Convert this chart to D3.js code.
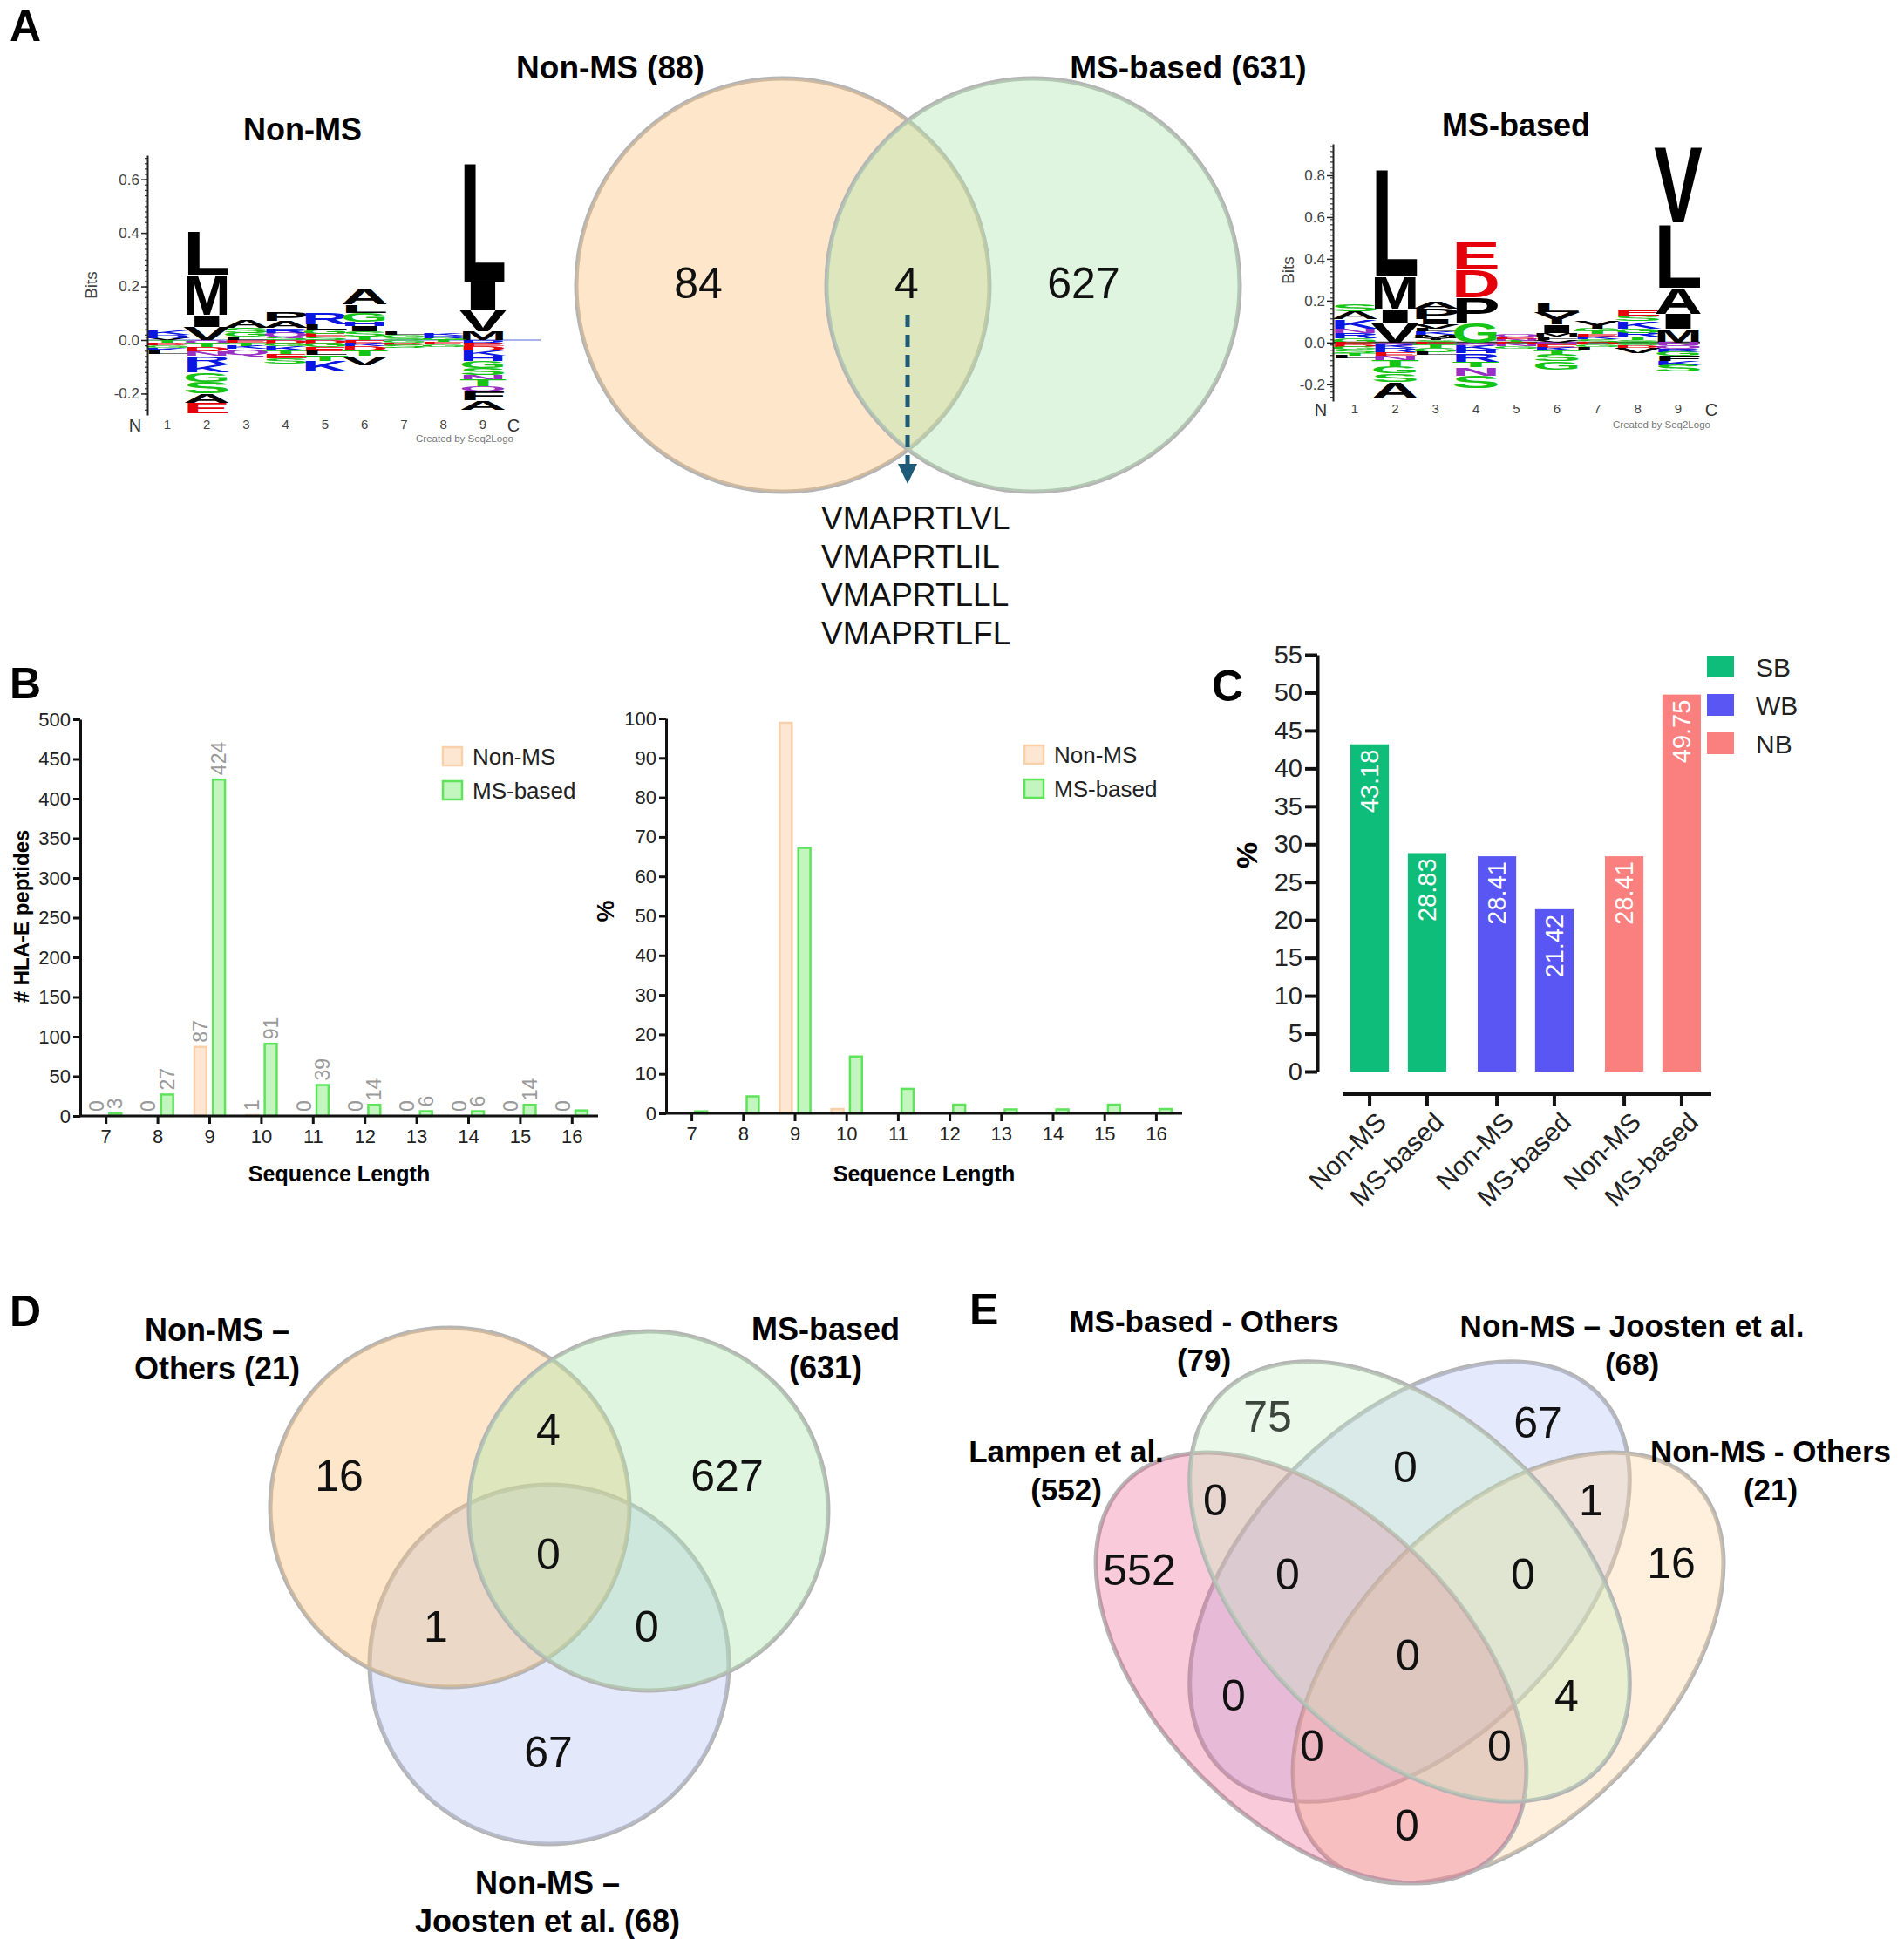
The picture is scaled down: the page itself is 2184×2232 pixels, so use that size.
<!DOCTYPE html>
<html>
<head>
<meta charset="utf-8">
<script src="https://cdnjs.cloudflare.com/ajax/libs/d3/7.8.5/d3.min.js"></script>
<style>
  body { margin: 0; background: #fff; }
  svg { display: block; font-family: "Liberation Sans", Arial, Helvetica, sans-serif; }
</style>
</head>
<body>
<script>
// ================= data =================
// A: sequence logos (bits), each column stacked from zero outwards
const logoPositions = [1, 2, 3, 4, 5, 6, 7, 8, 9];
const nonMsLogoUp = [
  [["V", 0.008], ["R", 0.012], ["K", 0.015]],
  [["V", 0.05], ["I", 0.045], ["M", 0.15], ["L", 0.165]],
  [["L", 0.012], ["G", 0.015], ["S", 0.02], ["A", 0.03]],
  [["S", 0.012], ["Q", 0.015], ["R", 0.018], ["A", 0.025], ["P", 0.035]],
  [["S", 0.012], ["E", 0.012], ["G", 0.015], ["L", 0.02], ["R", 0.045]],
  [["T", 0.012], ["S", 0.02], ["I", 0.02], ["H", 0.015], ["G", 0.035], ["L", 0.03], ["A", 0.06]],
  [["S", 0.01], ["G", 0.01], ["L", 0.012]],
  [["G", 0.008], ["R", 0.008], ["K", 0.01]],
  [["M", 0.033], ["V", 0.08], ["I", 0.105], ["L", 0.455]]
];
const nonMsLogoDown = [
  [["T", 0.01], ["D", 0.01], ["G", 0.01], ["K", 0.01], ["L", 0.012]],
  [["Q", 0.012], ["T", 0.015], ["D", 0.015], ["N", 0.018], ["R", 0.03], ["K", 0.03], ["G", 0.035], ["S", 0.045], ["A", 0.035], ["E", 0.04]],
  [["E", 0.01], ["T", 0.012], ["K", 0.012], ["Q", 0.022]],
  [["D", 0.012], ["G", 0.012], ["K", 0.015], ["T", 0.015], ["E", 0.015], ["S", 0.02]],
  [["D", 0.012], ["G", 0.015], ["E", 0.015], ["L", 0.015], ["T", 0.02], ["K", 0.04]],
  [["E", 0.012], ["K", 0.012], ["D", 0.015], ["T", 0.02], ["V", 0.035]],
  [["G", 0.01], ["D", 0.008], ["S", 0.012]],
  [["T", 0.008], ["E", 0.008], ["G", 0.01]],
  [["R", 0.012], ["E", 0.012], ["D", 0.015], ["K", 0.02], ["H", 0.02], ["G", 0.025], ["S", 0.025], ["N", 0.02], ["T", 0.025], ["Q", 0.015], ["F", 0.035], ["A", 0.035]]
];
const msLogoUp = [
  [["G", 0.02], ["R", 0.025], ["N", 0.02], ["K", 0.045], ["A", 0.04], ["S", 0.035]],
  [["V", 0.095], ["I", 0.065], ["M", 0.155], ["L", 0.53]],
  [["S", 0.01], ["Y", 0.012], ["M", 0.015], ["K", 0.015], ["L", 0.015], ["V", 0.02], ["I", 0.025], ["P", 0.05], ["A", 0.035]],
  [["G", 0.095], ["P", 0.12], ["D", 0.135], ["E", 0.135]],
  [["T", 0.008], ["N", 0.01], ["E", 0.01], ["Q", 0.012]],
  [["V", 0.012], ["F", 0.015], ["M", 0.018], ["I", 0.04], ["Y", 0.06], ["L", 0.045]],
  [["S", 0.015], ["K", 0.015], ["E", 0.012], ["T", 0.015], ["G", 0.01], ["Y", 0.04]],
  [["S", 0.012], ["T", 0.015], ["R", 0.02], ["G", 0.02], ["K", 0.035], ["S", 0.025], ["E", 0.025]],
  [["M", 0.068], ["I", 0.07], ["A", 0.125], ["L", 0.31], ["V", 0.375]]
];
const msLogoDown = [
  [["E", 0.01], ["D", 0.01], ["G", 0.015], ["S", 0.015], ["T", 0.012], ["L", 0.015]],
  [["Q", 0.012], ["K", 0.015], ["R", 0.02], ["E", 0.015], ["N", 0.02], ["T", 0.035], ["G", 0.03], ["S", 0.04], ["A", 0.08]],
  [["E", 0.01], ["T", 0.015], ["G", 0.02], ["L", 0.015]],
  [["Q", 0.012], ["K", 0.02], ["H", 0.02], ["R", 0.04], ["T", 0.025], ["N", 0.04], ["S", 0.06]],
  [["D", 0.008], ["N", 0.01], ["G", 0.01]],
  [["N", 0.01], ["E", 0.015], ["K", 0.015], ["T", 0.02], ["S", 0.03], ["G", 0.04]],
  [["D", 0.01], ["G", 0.012], ["L", 0.015]],
  [["G", 0.012], ["D", 0.012], ["V", 0.025]],
  [["N", 0.015], ["Q", 0.015], ["R", 0.015], ["G", 0.02], ["F", 0.025], ["K", 0.02], ["S", 0.03]]
];
const nonMsLogoTicks = [-0.2, 0, 0.2, 0.4, 0.6];
const msLogoTicks = [-0.2, 0, 0.2, 0.4, 0.6, 0.8];

// A: two-set Venn
const vennASets = ["Non-MS (88)", "MS-based (631)"];
const vennACounts = [84, 4, 627];
const sharedPeptides = ["VMAPRTLVL", "VMAPRTLIL", "VMAPRTLLL", "VMAPRTLFL"];

// B: sequence length distribution
const seqLengths = [7, 8, 9, 10, 11, 12, 13, 14, 15, 16];
const sourceNames = ["Non-MS", "MS-based"];
const nonMsCounts = [0, 0, 87, 1, 0, 0, 0, 0, 0, 0];
const msCounts = [3, 27, 424, 91, 39, 14, 6, 6, 14, 7];
const nonMsPct = [0, 0, 98.9, 1.1, 0, 0, 0, 0, 0, 0];
const msPct = [0.5, 4.3, 67.2, 14.4, 6.2, 2.2, 1.0, 1.0, 2.2, 1.1];
const countTicks = [0, 50, 100, 150, 200, 250, 300, 350, 400, 450, 500];
const pctTicks = [0, 10, 20, 30, 40, 50, 60, 70, 80, 90, 100];

// C: binding classes
const bindClasses = ["SB", "WB", "NB"];
const bindNonMs = [43.18, 28.41, 28.41];
const bindMs = [28.83, 21.42, 49.75];
const bindTicks = [0, 5, 10, 15, 20, 25, 30, 35, 40, 45, 50, 55];

// D: three-set Venn (regions: NonMS-Others / MS-based / Joosten)
const vennDLabels = [["Non-MS –", "Others (21)"], ["MS-based", "(631)"], ["Non-MS –", "Joosten et al. (68)"]];
const vennDRegions = ["100", "110", "010", "101", "111", "011", "001"];
const vennDCounts = [16, 4, 627, 1, 0, 0, 67];

// E: four-set Venn (regions: Lampen / MS-Others / Joosten / NonMS-Others)
const vennELabels = [["Lampen et al.", "(552)"], ["MS-based - Others", "(79)"], ["Non-MS – Joosten et al.", "(68)"], ["Non-MS - Others", "(21)"]];
const vennERegions = ["0100", "0010", "0110", "1100", "0011", "1000", "1110", "0111", "0001", "1111", "1010", "0101", "1011", "1101", "1001"];
const vennECounts = [75, 67, 0, 0, 1, 552, 0, 0, 16, 0, 0, 4, 0, 0, 0];

// ================= drawing =================
const W = 2184, H = 2232;
const svg = d3.select("body").append("svg").attr("width", W).attr("height", H);
svg.append("rect").attr("width", W).attr("height", H).attr("fill", "#fff");

// panel letters
[["A", 11, 47], ["B", 11, 801], ["C", 1390, 804], ["D", 11, 1521], ["E", 1112, 1519]].forEach(([t, x, y]) => {
  svg.append("text").attr("x", x).attr("y", y).text(t)
    .attr("font-size", 50).attr("font-weight", "bold").attr("fill", "#000");
});

// ---------- A: sequence logos ----------
const aaColor = aa => "DE".includes(aa) ? "#e6000a"
  : "KRH".includes(aa) ? "#0b16e0"
  : "GSTC".includes(aa) ? "#16c416"
  : "NQ".includes(aa) ? "#9a2fc4" : "#000";

function drawLogo(cfg) {
  const g = svg.append("g");
  const x = d3.scaleLinear().domain([1, 9]).range(cfg.xRange);
  const y = d3.scaleLinear().domain(cfg.yDomain).range(cfg.yRange);

  g.append("line").attr("x1", cfg.axisX).attr("x2", cfg.zeroEnd)
    .attr("y1", y(0)).attr("y2", y(0))
    .attr("stroke", cfg.zeroColor).attr("stroke-width", 2);

  const stack = (letters, dir, pos) => {
    let cum = 0;
    letters.forEach(([aa, bits]) => {
      const a = y(cum), b = y(cum + dir * bits);
      cum += dir * bits;
      const top = Math.min(a, b), h = Math.abs(a - b);
      const t = g.append("text").text(aa)
        .attr("font-size", 100).attr("font-weight", "bold")
        .attr("text-anchor", "middle").attr("fill", aaColor(aa));
      const adv = t.node().getComputedTextLength();
      t.attr("transform", `translate(${x(pos)},${top + h}) scale(${cfg.colW / (adv * 0.9)},${h / 72})`);
    });
  };
  cfg.up.forEach((col, i) => stack(col, 1, logoPositions[i]));
  cfg.down.forEach((col, i) => stack(col, -1, logoPositions[i]));

  // minor ticks
  g.append("g").attr("transform", `translate(${cfg.axisX},0)`)
    .call(d3.axisLeft(y).tickValues(d3.range(-0.26, cfg.yDomain[1], cfg.minor)).tickSize(3).tickFormat(""))
    .call(s => s.select(".domain").remove())
    .selectAll("line").attr("stroke", "#333").attr("stroke-width", 1.2);
  const ax = g.append("g").attr("transform", `translate(${cfg.axisX},0)`)
    .call(d3.axisLeft(y).tickValues(cfg.ticks).tickSize(7).tickSizeOuter(0).tickPadding(2)
      .tickFormat(d => d.toFixed(1)));
  ax.select(".domain").attr("stroke", "#222").attr("stroke-width", 2);
  ax.selectAll(".tick line").attr("stroke", "#222").attr("stroke-width", 1.5);
  ax.selectAll(".tick text").attr("font-size", 17).attr("fill", "#444");

  // position labels
  g.selectAll(".poslab").data(logoPositions).enter().append("text")
    .attr("x", d => x(d)).attr("y", cfg.posY).attr("text-anchor", "middle")
    .attr("font-size", 15).attr("fill", "#444").text(d => d);
  g.append("text").attr("x", cfg.nX).attr("y", cfg.posY + 3).attr("text-anchor", "middle")
    .attr("font-size", 20).attr("fill", "#333").text("N");
  g.append("text").attr("x", cfg.cX).attr("y", cfg.posY + 3).attr("text-anchor", "middle")
    .attr("font-size", 20).attr("fill", "#333").text("C");
  g.append("text").attr("x", cfg.credit[0]).attr("y", cfg.credit[1]).attr("text-anchor", "middle")
    .attr("font-size", 11.5).attr("fill", "#777").text("Created by Seq2Logo");
  g.append("text").attr("transform", `translate(${cfg.bits[0]},${cfg.bits[1]}) rotate(-90)`)
    .attr("text-anchor", "middle").attr("font-size", 19).attr("fill", "#444").text("Bits");
  g.append("text").attr("x", cfg.title[0]).attr("y", cfg.title[1]).attr("text-anchor", "middle")
    .attr("font-size", 36).attr("font-weight", "bold").text(cfg.titleText);
}

drawLogo({
  up: nonMsLogoUp, down: nonMsLogoDown, ticks: nonMsLogoTicks, minor: 0.02,
  xRange: [192, 554], yDomain: [-0.28, 0.69], yRange: [476, 178], colW: 49,
  axisX: 169, zeroEnd: 620, zeroColor: "#a9b2ec",
  posY: 492, nX: 155, cX: 589, credit: [533, 507], bits: [111, 327],
  title: [347, 161], titleText: "Non-MS"
});
drawLogo({
  up: msLogoUp, down: msLogoDown, ticks: msLogoTicks, minor: 0.025,
  xRange: [1554, 1925], yDomain: [-0.28, 0.95], yRange: [460, 165], colW: 50,
  axisX: 1529, zeroEnd: 1950, zeroColor: "#333",
  posY: 474, nX: 1515, cX: 1963, credit: [1906, 491], bits: [1484, 310],
  title: [1739, 156], titleText: "MS-based"
});

// Venn shapes: each drawn outline + fill in order, so later fills tint earlier outlines
function drawShapes(g, shapes, opacity) {
  shapes.forEach(d => {
    const tr = `translate(${d.cx},${d.cy}) rotate(${d.rot || 0})`;
    g.append("ellipse").attr("transform", tr).attr("rx", d.a).attr("ry", d.b)
      .attr("fill", "none").attr("stroke", "#b5b5b5").attr("stroke-width", 5);
    g.append("ellipse").attr("transform", tr).attr("rx", d.a).attr("ry", d.b)
      .attr("fill", d.fill).attr("fill-opacity", d.op || opacity);
  });
}

// ---------- A: two-set Venn ----------
const gA = svg.append("g");
drawShapes(gA, [
  { cx: 898, cy: 327, a: 237, b: 237, fill: "#f9c077" },
  { cx: 1185, cy: 327, a: 237, b: 237, fill: "#afe6af" }
], 0.4);
gA.selectAll(".set").data(vennASets).enter().append("text")
  .attr("x", (d, i) => [700, 1363][i]).attr("y", 90).attr("text-anchor", "middle")
  .attr("font-size", 37).attr("font-weight", "bold").text(d => d);
gA.selectAll(".cnt").data(vennACounts).enter().append("text")
  .attr("x", (d, i) => [801, 1040, 1243][i]).attr("y", 324).attr("dy", "0.36em")
  .attr("text-anchor", "middle").attr("font-size", 50).attr("fill", "#111").text(d => d);
gA.append("line").attr("x1", 1041).attr("x2", 1041).attr("y1", 361).attr("y2", 536)
  .attr("stroke", "#1d5b79").attr("stroke-width", 5).attr("stroke-dasharray", "14,9");
gA.append("path").attr("d", "M1030,532 L1052,532 L1041,555 Z").attr("fill", "#1d5b79");
gA.selectAll(".pep").data(sharedPeptides).enter().append("text")
  .attr("x", 942).attr("y", (d, i) => 607 + i * 44)
  .attr("font-size", 37).attr("fill", "#111").text(d => d);

// ---------- B: length distributions ----------
const srcStyle = {
  "Non-MS": { fill: "#fde7d3", stroke: "#f8d0aa" },
  "MS-based": { fill: "#c3f5be", stroke: "#5ee35a" }
};

function drawLengthChart(cfg) {
  const g = svg.append("g");
  const x = d3.scaleBand().domain(seqLengths).range(cfg.xRange);
  const inner = d3.scaleBand().domain(sourceNames).range([-25, 25]).padding(0.35);
  const y = d3.scaleLinear().domain([0, cfg.yMax]).range([cfg.y0, cfg.yTop]);

  const rows = [];
  seqLengths.forEach((L, i) => {
    rows.push({ L, s: "Non-MS", v: cfg.nonMs[i], i });
    rows.push({ L, s: "MS-based", v: cfg.ms[i], i });
  });
  const bx = d => x(d.L) + x.bandwidth() / 2 + inner(d.s);
  g.selectAll(".bar").data(rows.filter(d => d.v > 0)).enter().append("rect")
    .attr("x", d => bx(d)).attr("y", d => y(d.v))
    .attr("width", inner.bandwidth()).attr("height", d => y(0) - y(d.v))
    .attr("fill", d => srcStyle[d.s].fill).attr("stroke", d => srcStyle[d.s].stroke)
    .attr("stroke-width", 2.5);

  if (cfg.labels) {
    // the last MS-based label is cut off in the original figure
    g.selectAll(".vlab").data(rows.filter(d => !(d.s === "MS-based" && d.i === seqLengths.length - 1)))
      .enter().append("text")
      .attr("transform", d => `translate(${bx(d) + inner.bandwidth() / 2 + 8},${y(d.v) - 5}) rotate(-90)`)
      .attr("font-size", 23).attr("fill", "#9a9a9a").text(d => d.v);
  }

  const yAx = g.append("g").attr("transform", `translate(${cfg.axisX},0)`)
    .call(d3.axisLeft(y).tickValues(cfg.ticks).tickSize(8).tickSizeOuter(0).tickPadding(3));
  const xAx = g.append("g").attr("transform", `translate(0,${cfg.y0})`)
    .call(d3.axisBottom(x).tickSize(9).tickSizeOuter(0).tickPadding(6));
  xAx.select(".domain").attr("d", `M${cfg.axisX},0H${cfg.xRange[1]}`);
  [yAx, xAx].forEach(a => {
    a.selectAll(".domain, .tick line").attr("stroke", "#111").attr("stroke-width", 3);
    a.selectAll(".tick text").attr("font-size", 22).attr("fill", "#222");
  });

  g.append("text").attr("x", (cfg.axisX + cfg.xRange[1]) / 2).attr("y", 1355)
    .attr("text-anchor", "middle").attr("font-size", 25).attr("font-weight", "bold")
    .text("Sequence Length");
  g.append("text").attr("transform", `translate(${cfg.yLab[0]},${cfg.yLab[1]}) rotate(-90)`)
    .attr("text-anchor", "middle").attr("font-size", cfg.yLabSize).attr("font-weight", "bold")
    .text(cfg.yTitle);

  const lg = g.selectAll(".leg").data(sourceNames).enter().append("g")
    .attr("transform", (d, i) => `translate(${cfg.legend[0]},${cfg.legend[1] + i * 39})`);
  lg.append("rect").attr("width", 22).attr("height", 21)
    .attr("fill", d => srcStyle[d].fill).attr("stroke", d => srcStyle[d].stroke).attr("stroke-width", 2.5);
  lg.append("text").attr("x", 34).attr("y", 20).attr("font-size", 26).attr("fill", "#222").text(d => d);
}

drawLengthChart({
  nonMs: nonMsCounts, ms: msCounts, yMax: 500, ticks: countTicks, labels: true,
  xRange: [92, 686], axisX: 92, y0: 1280, yTop: 825,
  yTitle: "# HLA-E peptides", yLab: [33, 1051], yLabSize: 24, legend: [508, 857]
});
drawLengthChart({
  nonMs: nonMsPct, ms: msPct, yMax: 100, ticks: pctTicks, labels: false,
  xRange: [764, 1356], axisX: 764, y0: 1277, yTop: 824,
  yTitle: "%", yLab: [704, 1045], yLabSize: 28, legend: [1175, 855]
});

// ---------- C: binding classes ----------
const gC = svg.append("g");
const classColor = { SB: "#0dbd79", WB: "#5a56f4", NB: "#fa8080" };
const xC = d3.scaleBand().domain(bindClasses).range([1531, 1969]);
const innerC = d3.scaleBand().domain(sourceNames).range([18, 128]).paddingInner(0.33);
const yC = d3.scaleLinear().domain([0, 55]).range([1229, 751]);
const cRows = [];
bindClasses.forEach((c, i) => {
  cRows.push({ c, s: "Non-MS", v: bindNonMs[i] });
  cRows.push({ c, s: "MS-based", v: bindMs[i] });
});
const cx = d => xC(d.c) + innerC(d.s);
gC.selectAll(".bar").data(cRows).enter().append("rect")
  .attr("x", d => cx(d)).attr("y", d => yC(d.v))
  .attr("width", innerC.bandwidth()).attr("height", d => yC(0) - yC(d.v))
  .attr("fill", d => classColor[d.c]);
gC.selectAll(".vlab").data(cRows).enter().append("text")
  .attr("transform", d => `translate(${cx(d) + innerC.bandwidth() / 2 + 10},${yC(d.v) + 6}) rotate(-90)`)
  .attr("text-anchor", "end").attr("font-size", 29).attr("fill", "#fff").text(d => d.v.toFixed(2));

const yCAx = gC.append("g").attr("transform", "translate(1511,0)")
  .call(d3.axisLeft(yC).tickValues(bindTicks).tickSize(14).tickSizeOuter(0).tickPadding(3));
yCAx.selectAll(".domain, .tick line").attr("stroke", "#111").attr("stroke-width", 4);
yCAx.selectAll(".tick text").attr("font-size", 29).attr("fill", "#222");

gC.append("line").attr("x1", 1540).attr("x2", 1963).attr("y1", 1255).attr("y2", 1255)
  .attr("stroke", "#111").attr("stroke-width", 4);
gC.selectAll(".xt").data(cRows).enter().append("line")
  .attr("x1", d => cx(d) + innerC.bandwidth() / 2).attr("x2", d => cx(d) + innerC.bandwidth() / 2)
  .attr("y1", 1255).attr("y2", 1268).attr("stroke", "#111").attr("stroke-width", 4);
gC.selectAll(".xl").data(cRows).enter().append("text")
  .attr("transform", d => `translate(${cx(d) + innerC.bandwidth() / 2 + 6},${1274}) rotate(-45)`)
  .attr("text-anchor", "end").attr("dy", "0.7em").attr("font-size", 30).attr("fill", "#222")
  .text(d => d.s);
gC.append("text").attr("transform", "translate(1442,981) rotate(-90)")
  .attr("text-anchor", "middle").attr("font-size", 34).attr("font-weight", "bold").text("%");
const lgC = gC.selectAll(".leg").data(bindClasses).enter().append("g")
  .attr("transform", (d, i) => `translate(1958,${752 + i * 44})`);
lgC.append("rect").attr("width", 31).attr("height", 25).attr("fill", d => classColor[d]);
lgC.append("text").attr("x", 56).attr("y", 24).attr("font-size", 30).attr("fill", "#222").text(d => d);

// ---------- D: three-set Venn ----------
const gD = svg.append("g");
// drawn bottom circle first, then the two upper ones
drawShapes(gD, [
  { cx: 630, cy: 1909, a: 206, b: 206, fill: "#b9c5f5" },
  { cx: 516, cy: 1729, a: 206, b: 206, fill: "#f9c077" },
  { cx: 744, cy: 1733, a: 206, b: 206, fill: "#afe6af" }
], 0.4);
const dRegionPos = {
  "100": [389, 1692], "110": [629, 1639], "010": [834, 1692], "101": [500, 1865],
  "111": [629, 1782], "011": [742, 1865], "001": [629, 2009]
};
gD.selectAll(".cnt").data(vennDRegions).enter().append("text")
  .attr("x", d => dRegionPos[d][0]).attr("y", d => dRegionPos[d][1]).attr("dy", "0.36em")
  .attr("text-anchor", "middle").attr("font-size", 50).attr("fill", "#111")
  .text((d, i) => vennDCounts[i]);
const dLabelPos = [[249, 1538], [947, 1537], [628, 2172]];
vennDLabels.forEach((lines, i) => {
  lines.forEach((t, j) => {
    gD.append("text").attr("x", dLabelPos[i][0]).attr("y", dLabelPos[i][1] + j * 44)
      .attr("text-anchor", "middle").attr("font-size", 36).attr("font-weight", "bold").text(t);
  });
});

// ---------- E: four-set Venn ----------
const gE = svg.append("g");
// draw order: Joosten, NonMS-Others, Lampen, MS-Others
drawShapes(gE, [
  { cx: 1617, cy: 1814, a: 305, b: 185, rot: -45, fill: "#b4bff5", op: 0.35 },
  { cx: 1730, cy: 1913, a: 301, b: 177, rot: -45, fill: "#fbd49a", op: 0.35 },
  { cx: 1504, cy: 1913, a: 301, b: 177, rot: 45, fill: "#ea4f80", op: 0.3 },
  { cx: 1617, cy: 1814, a: 305, b: 185, rot: 45, fill: "#c3ecc0", op: 0.33 }
], 0.35);
const eRegionPos = {
  "0100": [1454, 1624], "0010": [1764, 1631], "0110": [1612, 1682], "1100": [1394, 1720],
  "0011": [1825, 1720], "1000": [1307, 1800], "1110": [1477, 1805], "0111": [1747, 1805],
  "0001": [1917, 1792], "1111": [1615, 1898], "1010": [1415, 1944], "0101": [1797, 1944],
  "1011": [1505, 2002], "1101": [1720, 2002], "1001": [1614, 2093]
};
gE.selectAll(".cnt").data(vennERegions).enter().append("text")
  .attr("x", d => eRegionPos[d][0]).attr("y", d => eRegionPos[d][1]).attr("dy", "0.36em")
  .attr("text-anchor", "middle").attr("font-size", 50)
  .attr("fill", d => d === "0100" ? "#3c463c" : "#111")
  .text((d, i) => vennECounts[i]);
const eLabelPos = [[1223, 1677], [1381, 1528], [1872, 1533], [2031, 1677]];
vennELabels.forEach((lines, i) => {
  lines.forEach((t, j) => {
    gE.append("text").attr("x", eLabelPos[i][0]).attr("y", eLabelPos[i][1] + j * 44)
      .attr("text-anchor", "middle").attr("font-size", 35).attr("font-weight", "bold").text(t);
  });
});
</script>
</body>
</html>
